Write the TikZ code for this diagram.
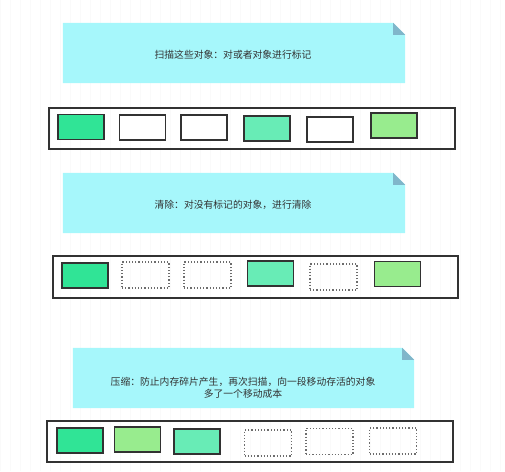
\documentclass[tikz,border=0pt]{standalone}
\usepackage{fontspec}
\newfontfamily\cjk{Noto Sans CJK SC}
\usetikzlibrary{positioning}

\definecolor{notecyan}{RGB}{166,247,251}
\definecolor{notefold}{RGB}{128,182,202}
\definecolor{objgreen}{RGB}{48,228,150}
\definecolor{objaqua}{RGB}{104,236,182}
\definecolor{objlime}{RGB}{152,236,142}
\definecolor{cellline}{RGB}{50,50,50}

\tikzset{
  note/.style={minimum width=342, minimum height=60, inner sep=0},
  notetext/.style={font=\cjk\fontsize{9.8}{12}\selectfont, text=black!80, align=center},
  heap/.style={draw=cellline, line width=1.3pt, minimum width=406, minimum height=41, inner sep=0},
  cell/.style={draw=cellline, line width=1.2pt, minimum width=46, minimum height=25, inner sep=0},
  freecell/.style={draw=gray!85!black, dotted, line width=1.2pt, minimum width=47, minimum height=26, inner sep=0}
}

\begin{document}
\begin{tikzpicture}[x=1pt, y=-1pt]
  \useasboundingbox (0,0) rectangle (505,471);
  \draw[gray!4, step=10] (0,0) grid (505,471);

  % notes
  \node[note] (scannote) at (234,53) {};
  \node[note] (sweepnote) at (234,203) {};
  \node[note, minimum width=341] (compactnote) at (243.5,378) {};
  \foreach \n in {scannote, sweepnote, compactnote} {
    \fill[notecyan] (\n.north west) -- ([xshift=-12pt]\n.north east) -- ([yshift=-12pt]\n.north east)
      -- (\n.south east) -- (\n.south west) -- cycle;
    \fill[notefold] ([xshift=-12pt]\n.north east) -- ([xshift=-12pt, yshift=-12pt]\n.north east)
      -- ([yshift=-12pt]\n.north east) -- cycle;
  }
  \node[notetext] (scantext) at (233,55) {扫描这些对象：对或者对象进行标记};
  \node[notetext] (sweeptext) at (233,205) {清除：对没有标记的对象，进行清除};
  \node[notetext] (compacttext) at (243,388) {压缩：防止内存碎片产生，再次扫描，向一段移动存活的对象\\多了一个移动成本};

  % mark
  \node[heap] (heapA) at (252,128.5) {};
  \node[cell, fill=objgreen] (a1) at (81,127) {};
  \node[cell, fill=white] (a2) at (142.5,127.5) {};
  \node[cell, fill=white] (a3) at (204,127.5) {};
  \node[cell, fill=objaqua] (a4) at (267,128.5) {};
  \node[cell, fill=white] (a5) at (330,129.5) {};
  \node[cell, fill=objlime] (a6) at (394,125.5) {};

  % sweep
  \node[heap, minimum width=405, minimum height=42] (heapB) at (255.5,277) {};
  \node[cell, fill=objgreen] (b1) at (85,275.5) {};
  \node[freecell] (b2) at (145.5,275) {};
  \node[freecell] (b3) at (207.5,275) {};
  \node[cell, fill=objaqua] (b4) at (270.5,273.5) {};
  \node[freecell] (b5) at (333.5,277) {};
  \node[cell, fill=objlime] (b6) at (397.5,274) {};

  % compact
  \node[heap] (heapC) at (250,441.5) {};
  \node[cell, fill=objgreen] (c1) at (80,440.5) {};
  \node[cell, fill=objlime] (c2) at (137.5,439.5) {};
  \node[cell, fill=objaqua] (c3) at (197,441.5) {};
  \node[freecell] (c4) at (268,443) {};
  \node[freecell] (c5) at (329.5,441.5) {};
  \node[freecell] (c6) at (393,441) {};
\end{tikzpicture}
\end{document}
